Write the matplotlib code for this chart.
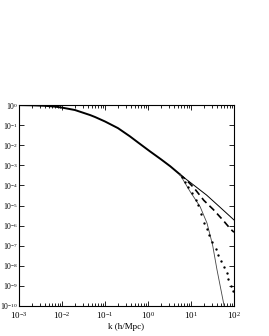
import numpy as np
import matplotlib
matplotlib.use("Agg")
import matplotlib.pyplot as plt
from matplotlib.ticker import LogLocator, NullFormatter

# -------------------------------
# Data (log10 of P)
# -------------------------------
k_main = [1e-3, 2e-3, 4e-3, 6.9e-3, 1e-2, 2e-2, 4.5e-2, 5.9e-2, 0.1, 0.2, 0.38, 0.6, 1.1, 2.0, 3.3, 5.5]
logp_main = [-0.005, -0.015, -0.04, -0.08, -0.13, -0.25, -0.5, -0.6, -0.82, -1.15, -1.56, -1.88, -2.3, -2.7, -3.05, -3.45]

k_thin = [5.5, 10, 23, 47, 100]
logp_thin = [-3.45, -3.88, -4.48, -5.08, -5.72]

k_dash = [5.5, 8, 12, 20, 33, 55, 83, 100]
logp_dash = [-3.45, -3.75, -4.15, -4.75, -5.2, -5.72, -6.17, -6.33]

k_cut = [5.5, 9.5, 16.3, 23.5, 28, 32, 40, 50, 59, 65]
logp_cut = [-3.45, -4.3, -5.06, -5.87, -6.5, -7.0, -8.17, -9.22, -10.0, -10.5]

k_dots = [6.1, 7.2, 8.5, 10.6, 13.1, 14.6, 17.0, 20, 23, 26.7, 31, 37.5, 41.7, 49, 58.6, 67.8, 74, 84, 97]
logp_dots = [-3.58, -3.83, -4.08, -4.38, -4.73, -4.98, -5.4, -5.87, -6.15, -6.45, -6.82, -7.15, -7.45,
             -7.75, -8.07, -8.36, -8.64, -8.99, -9.27]

x_ticks = [1e-3, 1e-2, 1e-1, 1e0, 1e1, 1e2]
y_ticks = [10.0 ** e for e in range(-10, 1)]

plt.rcParams["font.family"] = "Liberation Serif"
plt.rcParams["mathtext.fontset"] = "stix"

fig = plt.figure(figsize=(2.69, 3.36), dpi=100)
ax = fig.add_axes([19 / 269, 30 / 336, 215 / 269, 201 / 336])

ax.plot(k_main, 10.0 ** np.array(logp_main), color="black", lw=1.4)
ax.plot(k_thin, 10.0 ** np.array(logp_thin), color="black", lw=0.7)
ax.plot(k_dash, 10.0 ** np.array(logp_dash), color="black", lw=1.2, dashes=(4, 2.5))
ax.plot(k_cut, 10.0 ** np.array(logp_cut), color="#444444", lw=0.6)
ax.plot(k_dots, 10.0 ** np.array(logp_dots), ls="none", marker="o", ms=1.7, mew=0, color="black")

ax.set_xscale("log")
ax.set_yscale("log")
ax.set_xlim(1e-3, 1e2)
ax.set_ylim(1e-10, 1e0)
ax.set_xticks(x_ticks)
ax.set_yticks(y_ticks)
ax.xaxis.set_minor_locator(LogLocator(base=10, subs=np.arange(2, 10), numticks=20))
ax.xaxis.set_minor_formatter(NullFormatter())
ax.yaxis.set_minor_locator(matplotlib.ticker.NullLocator())

ax.tick_params(which="both", direction="in", top=True, right=True, width=0.6)
ax.tick_params(axis="x", pad=3, labelsize=6.5)
ax.tick_params(axis="y", pad=0.5, labelsize=5.5)
ax.tick_params(which="major", length=3.5)
ax.tick_params(which="minor", length=2)
for s in ax.spines.values():
    s.set_linewidth(0.8)

ax.set_xlabel("k (h/Mpc)", fontsize=6.5, labelpad=1)

fig.savefig("out.png", dpi=100)
